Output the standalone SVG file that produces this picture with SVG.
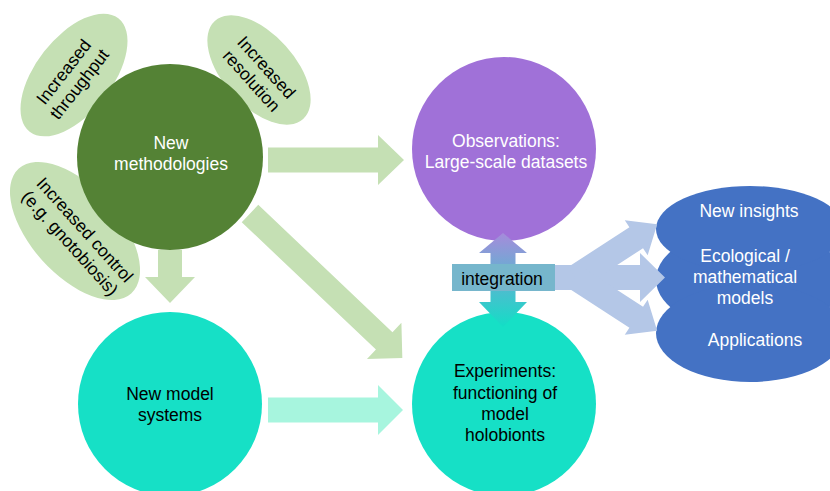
<svg xmlns="http://www.w3.org/2000/svg" width="830" height="491" viewBox="0 0 830 491">
<defs>
<style>
text{font-family:"Liberation Sans",Arial,Helvetica,sans-serif;font-size:17.5px;text-anchor:middle}
.w{fill:#ffffff}
.k{fill:#000000}
.lg{fill:#C5E0B4}
.lt{fill:#A7F5DE}
.lb{fill:#B4C7E7}
</style>
<linearGradient id="integ" x1="0" y1="233" x2="0" y2="327" gradientUnits="userSpaceOnUse">
<stop offset="0" stop-color="#A68BDB"/>
<stop offset="1" stop-color="#12DEC6"/>
</linearGradient>
</defs>
<rect width="830" height="491" fill="#ffffff"/>

<g id="ellipse-throughput">
<ellipse cx="74" cy="75" rx="72" ry="38" transform="rotate(-52 74 75)" class="lg"/>
<g transform="translate(71.5 78) rotate(-52)">
<text class="k" x="0" y="-4">Increased</text>
<text class="k" x="0" y="16">throughput</text>
</g>
</g>
<g id="ellipse-resolution">
<ellipse cx="259" cy="70" rx="66" ry="36" transform="rotate(48 259 70)" class="lg"/>
<g transform="translate(259 74) rotate(48)">
<text class="k" x="0" y="-4">Increased</text>
<text class="k" x="0" y="16">resolution</text>
</g>
</g>
<g id="ellipse-control">
<ellipse cx="75" cy="231" rx="84" ry="44" transform="rotate(48 75 231)" class="lg"/>
<g transform="translate(77.5 236.5) rotate(48)">
<text class="k" x="0" y="-4">Increased control</text>
<text class="k" x="0" y="16">(e.g. gnotobiosis)</text>
</g>
</g>

<g id="new-methodologies">
<circle cx="170" cy="157" r="93" fill="#548235"/>
<text class="w" x="171" y="149">New</text>
<text class="w" x="171" y="170">methodologies</text>
</g>
<g id="observations">
<circle cx="504" cy="149" r="92" fill="#A071D8"/>
<text class="w" x="506" y="147">Observations:</text>
<text class="w" x="506" y="168">Large-scale datasets</text>
</g>
<g id="new-model-systems">
<circle cx="170" cy="404" r="92" fill="#16E0C6"/>
<text class="k" x="170" y="400">New model</text>
<text class="k" x="170" y="421">systems</text>
</g>
<g id="experiments">
<circle cx="504" cy="404" r="92" fill="#16E0C6"/>
<text class="k" x="505" y="377">Experiments:</text>
<text class="k" x="505" y="399">functioning of</text>
<text class="k" x="505" y="420">model</text>
<text class="k" x="505" y="441">holobionts</text>
</g>

<g id="outcomes">
<ellipse cx="750" cy="279.5" rx="94" ry="52" fill="#4472C4"/>
<ellipse cx="750" cy="229" rx="94" ry="43" fill="#4472C4"/>
<ellipse cx="750" cy="333" rx="94" ry="49" fill="#4472C4"/>
<text class="w" x="749" y="217">New insights</text>
<text class="w" x="745" y="262">Ecological /</text>
<text class="w" x="745" y="283">mathematical</text>
<text class="w" x="745" y="304">models</text>
<text class="w" x="755" y="346">Applications</text>
</g>

<g id="connectors">
<polygon class="lg" points="268,147.5 378,147.5 378,135 404,160 378,185 378,172.5 268,172.5"/>
<polygon class="lg" points="158,250 182,250 182,277 195,277 170,303 145,277 158,277"/>
<polygon class="lg" transform="translate(250 213.5) rotate(43.5)" points="0,-12 185,-12 185,-25 210,0 185,25 185,12 0,12"/>
<polygon class="lt" points="268,397.5 378,397.5 378,385 403,410 378,435 378,422.5 268,422.5"/>
<polygon fill="url(#integ)" points="503,233 527,253 515.5,253 515.5,302 527,302 503,327 479,302 490.5,302 490.5,253 479,253"/>
<g class="lb">
<polygon points="555,265 640,265 640,253 665,277.5 640,302 640,290 555,290"/>
<polygon transform="translate(575 277.5) rotate(-33)" points="0,-12.5 73,-12.5 73,-21 98,0 73,21 73,12.5 0,12.5"/>
<polygon transform="translate(575 277.5) rotate(33)" points="0,-12.5 73,-12.5 73,-21 98,0 73,21 73,12.5 0,12.5"/>
</g>
</g>

<g id="integration">
<rect x="452" y="264" width="103" height="27" fill="#76B6CC"/>
<text class="k" x="502" y="285">integration</text>
</g>
</svg>
